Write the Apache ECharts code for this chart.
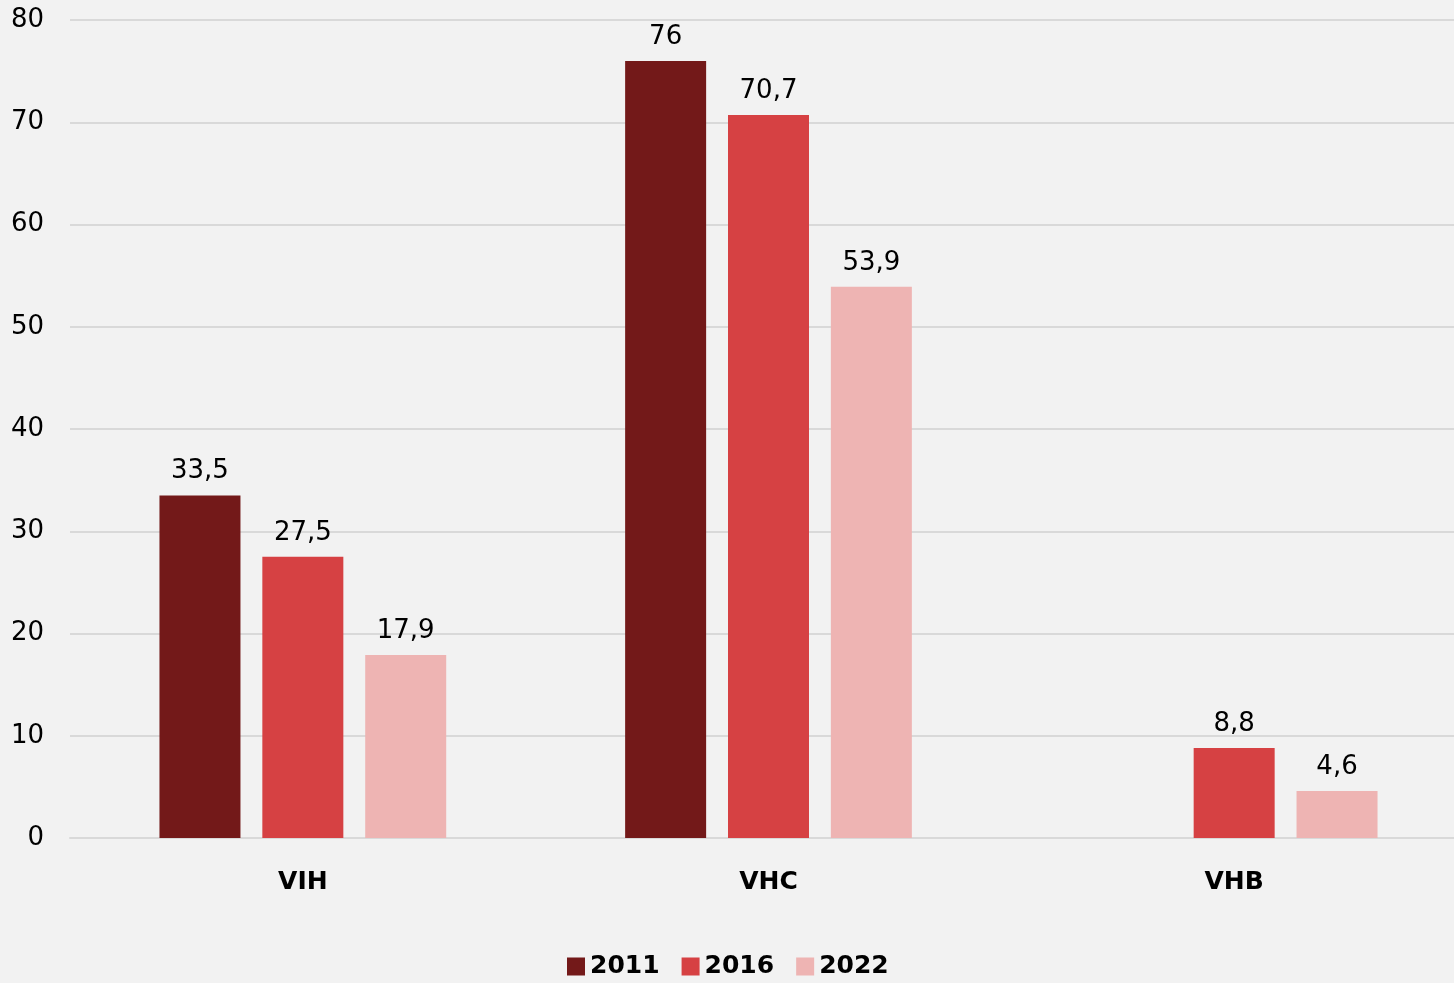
<!DOCTYPE html>
<html>
<meta charset="UTF-8">
<title>bars</title>
<style type="text/css">
    html,
    body {
        margin: 0px;
        height: 100%;
        width: 100%;
        overflow: hidden;
        background: #F2F2F2;
    }

    #chart {
        width: 1467px;
        height: 983px;
    }
</style>
<script src="https://cdn.jsdelivr.net/npm/echarts@6/dist/echarts.min.js"></script>

<body>
    <div id="chart"></div>
    <script>
        const categories = ['VIH', 'VHC', 'VHB'];
        const years = ['2011', '2016', '2022'];
        const values2011 = [33.5, 76, null];
        const values2016 = [27.5, 70.7, 8.8];
        const values2022 = [17.9, 53.9, 4.6];
        const colors = ['#731919', '#D64143', '#EEB4B3'];

        const font = 'DejaVu Sans';
        const chart = echarts.init(document.querySelector('#chart'));

        const mk = (name, data, color) => ({
            name: name,
            type: 'bar',
            data: data,
            barWidth: 81,
            barGap: '27%',
            itemStyle: { color: color },
            label: {
                show: true,
                position: 'top',
                distance: 11,
                color: '#000',
                fontFamily: font,
                fontSize: 26,
                formatter: p => String(p.value).replace('.', ',')
            }
        });

        chart.setOption({
            backgroundColor: '#F2F2F2',
            animation: false,
            // plot area runs a little past the right edge of the window, as in the original
            grid: { left: 70, right: 0, top: 20, bottom: 145 },
            legend: {
                bottom: -1,
                left: 562,
                itemWidth: 18,
                itemHeight: 18,
                itemGap: 22,
                icon: 'rect',
                textStyle: { fontFamily: font, fontSize: 25, fontWeight: 'bold', color: '#000' },
                data: years
            },
            xAxis: {
                type: 'category',
                data: categories,
                axisTick: { show: false },
                axisLine: { lineStyle: { color: '#D9D9D9', width: 2 } },
                axisLabel: { margin: 32, color: '#000', fontFamily: font, fontSize: 25, fontWeight: 'bold' }
            },
            yAxis: {
                type: 'value',
                min: 0,
                max: 80,
                interval: 10,
                axisLabel: { margin: 26, color: '#000', fontFamily: font, fontSize: 26 },
                splitLine: { lineStyle: { color: '#D9D9D9', width: 2 } }
            },
            series: [
                mk(years[0], values2011, colors[0]),
                mk(years[1], values2016, colors[1]),
                mk(years[2], values2022, colors[2])
            ]
        });
    </script>
</body>

</html>
